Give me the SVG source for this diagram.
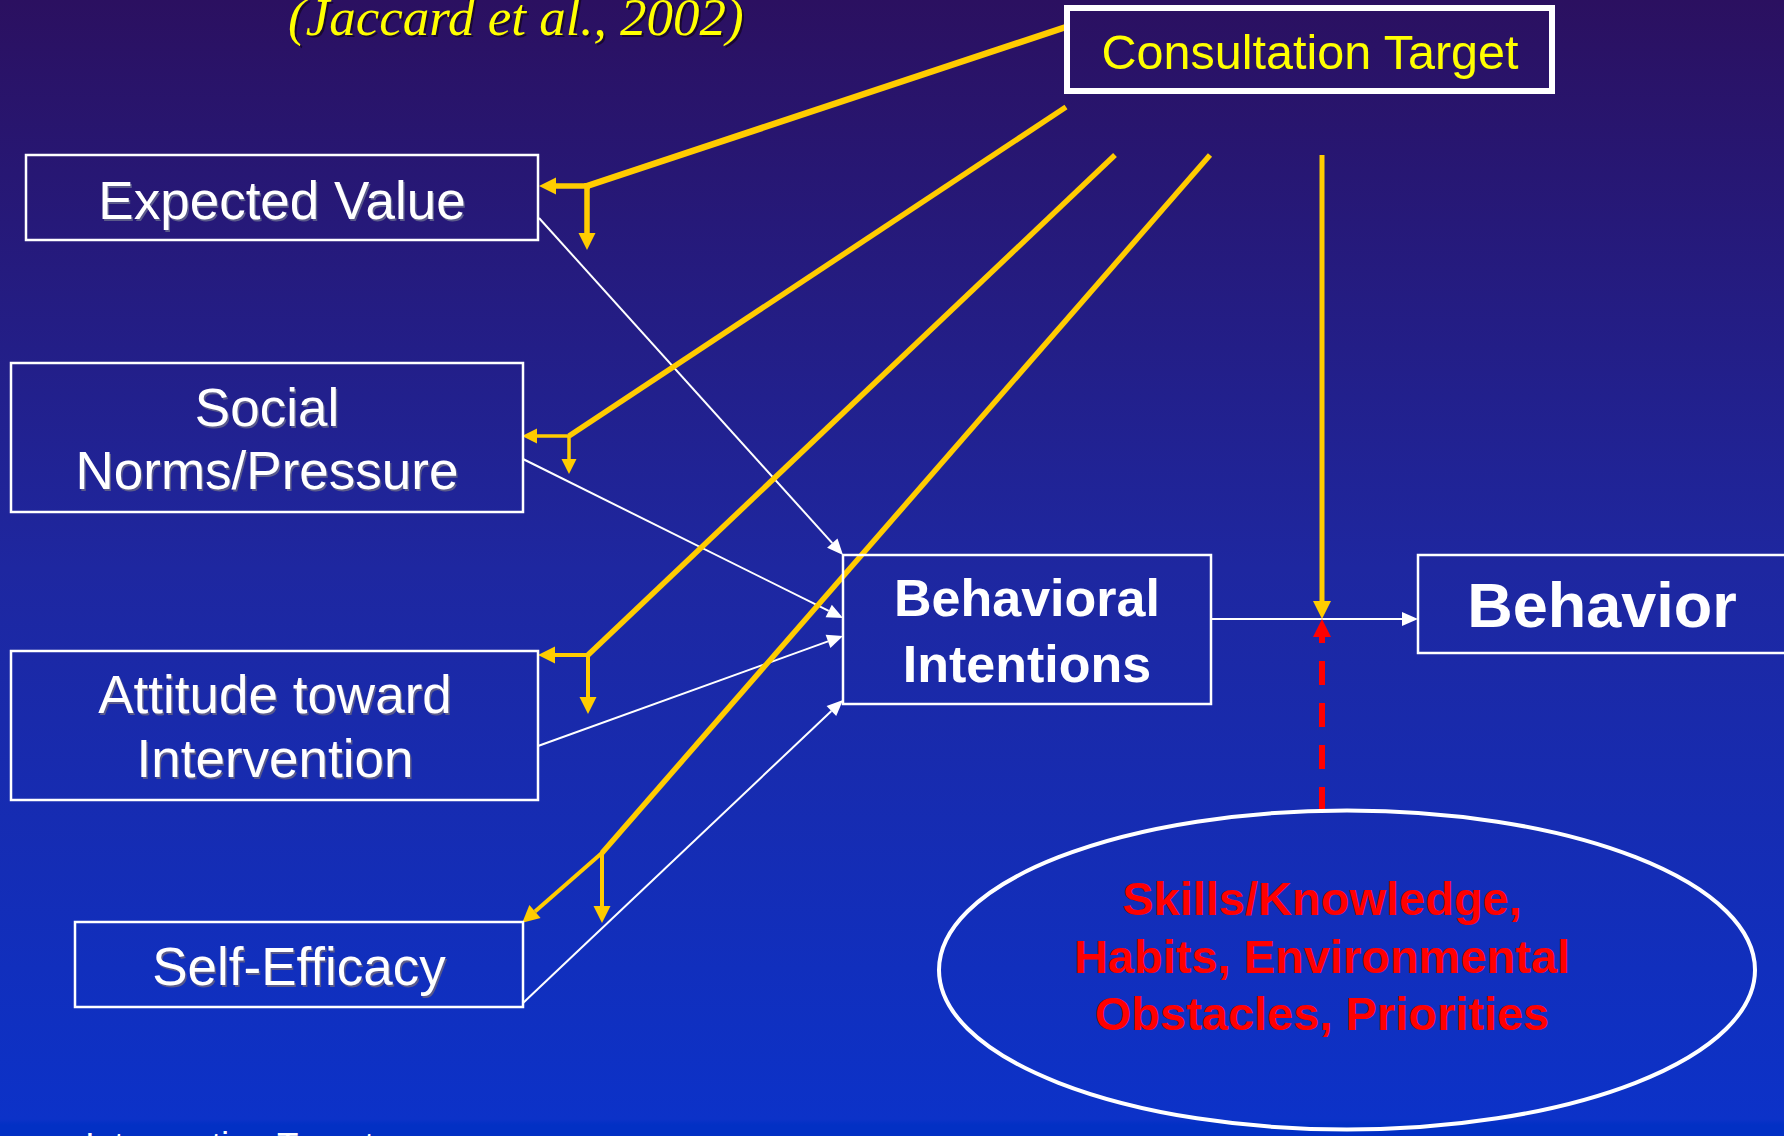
<svg xmlns="http://www.w3.org/2000/svg" width="1784" height="1136" viewBox="0 0 1784 1136">
  <defs>
    <linearGradient id="bg" x1="0" y1="0" x2="0" y2="1136" gradientUnits="userSpaceOnUse">
      <stop offset="0" stop-color="#2b1060"/>
      <stop offset="0.5" stop-color="#1e27a0"/>
      <stop offset="0.985" stop-color="#0c32c8"/>
      <stop offset="0.99" stop-color="#0230c4"/>
      <stop offset="1" stop-color="#0230c4"/>
    </linearGradient>
    <marker id="ah-y" markerUnits="userSpaceOnUse" markerWidth="18" markerHeight="18" refX="0" refY="8.5" orient="auto" overflow="visible">
      <path d="M0,0 L17,8.5 L0,17 z" fill="#ffcc00"/>
    </marker>
    <marker id="ah-ys" markerUnits="userSpaceOnUse" markerWidth="16" markerHeight="16" refX="0" refY="7.5" orient="auto" overflow="visible">
      <path d="M0,0 L15,7.5 L0,15 z" fill="#ffcc00"/>
    </marker>
    <marker id="ah-yl" markerUnits="userSpaceOnUse" markerWidth="19" markerHeight="19" refX="0" refY="9" orient="auto" overflow="visible">
      <path d="M0,0 L18,9 L0,18 z" fill="#ffcc00"/>
    </marker>
    <marker id="ah-r" markerUnits="userSpaceOnUse" markerWidth="19" markerHeight="19" refX="0" refY="9" orient="auto" overflow="visible">
      <path d="M0,0 L18,9 L0,18 z" fill="#ff0000"/>
    </marker>
    <marker id="ah-w" markerUnits="userSpaceOnUse" markerWidth="17" markerHeight="15" refX="0" refY="7" orient="auto" overflow="visible">
      <path d="M0,0 L16,7 L0,14 z" fill="#ffffff"/>
    </marker>
  </defs>
  <style>
    .box { fill: none; stroke: #ffffff; stroke-width: 2.5; }
    .lbl { font-family: "Liberation Sans", Arial, sans-serif; font-size: 53px; fill: #ffffff; text-anchor: middle; }
    .bi { font-weight: bold; font-size: 52px; }
    .bh { font-weight: bold; font-size: 63px; }
    .sh { fill: #5a5a8a; }
    .yl { stroke: #ffcc00; fill: none; stroke-linecap: butt; }
    .wl { stroke: #ffffff; stroke-width: 2; fill: none; }
    .red { font-family: "Liberation Sans", Arial, sans-serif; font-weight: bold; font-size: 47px; fill: #ff0000; text-anchor: middle; }
  </style>

  <rect x="0" y="0" width="1784" height="1136" fill="url(#bg)"/>

  <!-- Title -->
  <g id="title">
    <text x="290" y="37" font-family="'Liberation Serif', 'Times New Roman', serif" font-style="italic" font-size="53" fill="#1a0830">(Jaccard et al., 2002)</text>
    <text x="288" y="35" font-family="'Liberation Serif', 'Times New Roman', serif" font-style="italic" font-size="53" fill="#ffff00">(Jaccard et al., 2002)</text>
  </g>

  <!-- Connectors -->
  <g id="connectors">
    <!-- white influence arrows -->
    <line class="wl" x1="539" y1="218" x2="832.3" y2="543.1" marker-end="url(#ah-w)"/>
    <line class="wl" x1="523" y1="459" x2="828.7" y2="610.9" marker-end="url(#ah-w)"/>
    <line class="wl" x1="538" y1="746" x2="828" y2="641.4" marker-end="url(#ah-w)"/>
    <line class="wl" x1="523" y1="1003" x2="831.4" y2="711" marker-end="url(#ah-w)"/>
    <line class="wl" x1="1211" y1="619" x2="1402" y2="619" marker-end="url(#ah-w)"/>

    <!-- yellow consultation lines -->
    <line class="yl" stroke-width="6.5" x1="1066" y1="27" x2="587" y2="186"/>
    <line class="yl" stroke-width="5.5" x1="590" y1="186" x2="556" y2="186" marker-end="url(#ah-y)"/>
    <line class="yl" stroke-width="5.5" x1="587" y1="183" x2="587" y2="233" marker-end="url(#ah-y)"/>

    <line class="yl" stroke-width="5.5" x1="1066" y1="107" x2="569" y2="436"/>
    <line class="yl" stroke-width="3.5" x1="570" y1="436" x2="537" y2="436" marker-end="url(#ah-ys)"/>
    <line class="yl" stroke-width="3.5" x1="569" y1="435" x2="569" y2="459" marker-end="url(#ah-ys)"/>

    <line class="yl" stroke-width="5.5" x1="1115" y1="155" x2="588" y2="655"/>
    <line class="yl" stroke-width="4" x1="590" y1="655" x2="555" y2="655" marker-end="url(#ah-y)"/>
    <line class="yl" stroke-width="4" x1="588" y1="653" x2="588" y2="697" marker-end="url(#ah-y)"/>

    <line class="yl" stroke-width="5.5" x1="1210" y1="155" x2="602" y2="853"/>
    <line class="yl" stroke-width="4" x1="603" y1="852" x2="535" y2="911.5" marker-end="url(#ah-y)"/>
    <line class="yl" stroke-width="4" x1="602" y1="852" x2="602" y2="906" marker-end="url(#ah-y)"/>

    <line class="yl" stroke-width="5" x1="1322" y1="155" x2="1322" y2="601" marker-end="url(#ah-yl)"/>

    <!-- red dashed -->
    <line x1="1322" y1="811" x2="1322" y2="637" stroke="#ff0000" stroke-width="6" stroke-dasharray="24 18" marker-end="url(#ah-r)"/>
  </g>

  <!-- Nodes -->
  <g id="consultation-target">
    <rect x="1067" y="8" width="485" height="83" fill="none" stroke="#ffffff" stroke-width="6"/>
    <text x="1310" y="69" font-family="'Liberation Sans', Arial, sans-serif" font-size="48.5" fill="#ffff00" text-anchor="middle">Consultation Target</text>
  </g>

  <g id="expected-value">
    <rect class="box" x="26" y="155" width="512" height="85"/>
    <text class="lbl sh" x="283.5" y="220.5">Expected Value</text>
    <text class="lbl" x="282" y="219">Expected Value</text>
  </g>

  <g id="social-norms">
    <rect class="box" x="11" y="363" width="512" height="149"/>
    <text class="lbl sh" x="268.5" y="427.5">Social</text>
    <text class="lbl sh" x="268.5" y="490.5">Norms/Pressure</text>
    <text class="lbl" x="267" y="426">Social</text>
    <text class="lbl" x="267" y="489">Norms/Pressure</text>
  </g>

  <g id="attitude">
    <rect class="box" x="11" y="651" width="527" height="149"/>
    <text class="lbl sh" x="276.5" y="714.5">Attitude toward</text>
    <text class="lbl sh" x="276.5" y="778.5">Intervention</text>
    <text class="lbl" x="275" y="713">Attitude toward</text>
    <text class="lbl" x="275" y="777">Intervention</text>
  </g>

  <g id="self-efficacy">
    <rect class="box" x="75" y="922" width="448" height="85"/>
    <text class="lbl sh" x="300.5" y="986.5">Self-Efficacy</text>
    <text class="lbl" x="299" y="985">Self-Efficacy</text>
  </g>

  <g id="behavioral-intentions">
    <rect class="box" x="843" y="555" width="368" height="149"/>
    <text class="lbl bi" x="1027" y="616">Behavioral</text>
    <text class="lbl bi" x="1027" y="682">Intentions</text>
  </g>

  <g id="behavior">
    <rect class="box" x="1418" y="555" width="380" height="98"/>
    <text class="lbl bh" x="1602" y="627">Behavior</text>
  </g>

  <g id="skills">
    <ellipse cx="1347" cy="970" rx="408" ry="159.5" fill="none" stroke="#ffffff" stroke-width="4"/>
    <text class="red" x="1322" y="915">Skills/Knowledge,</text>
    <text class="red" x="1322" y="973">Habits, Environmental</text>
    <text class="red" x="1322" y="1030">Obstacles, Priorities</text>
  </g>

  <g id="footer">
    <text x="85" y="1157" font-family="'Liberation Sans', Arial, sans-serif" font-size="35" fill="#ffffff">Intervention Targets</text>
  </g>
</svg>
